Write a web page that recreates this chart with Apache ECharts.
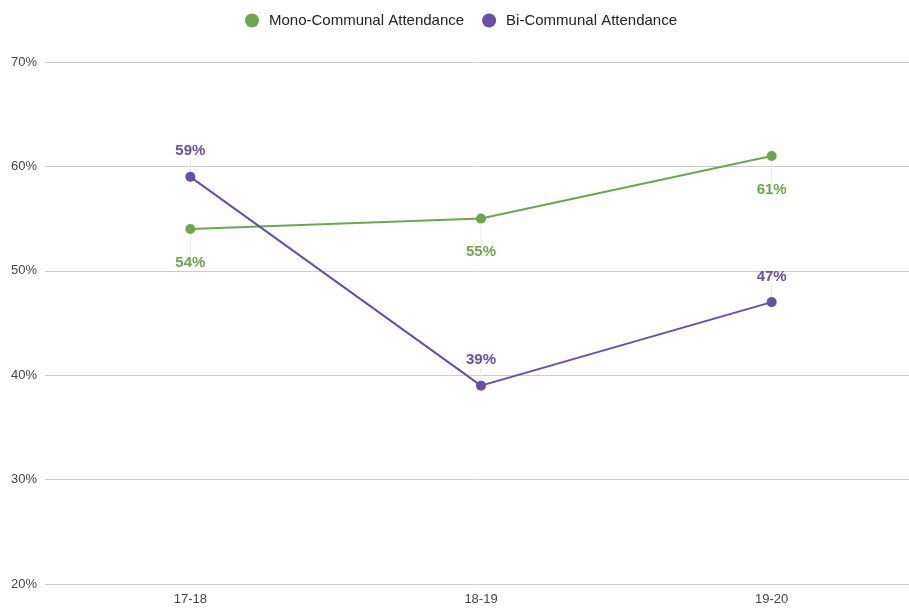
<!DOCTYPE html>
<html>
<head>
<meta charset="utf-8">
<script src="https://cdn.jsdelivr.net/npm/echarts@6/dist/echarts.min.js"></script>
<style>
  html, body { margin: 0; padding: 0; background: #fff; }
  #chart { width: 909px; height: 609px; }
</style>
</head>
<body>
<div id="chart"></div>
<script>
const seasons = ["17-18", "18-19", "19-20"];
const monoCommunal = [54, 55, 61];
const biCommunal = [59, 39, 47];
const seriesNames = ["Mono-Communal Attendance", "Bi-Communal Attendance"];
const green = "#6aa84f";
const purple = "#674ea7";

const chart = echarts.init(document.getElementById("chart"));

function lineSeries(name, data, color, below) {
  return {
    name: name,
    type: "line",
    data: data,
    color: color,
    symbol: "circle",
    symbolSize: 10,
    lineStyle: { width: 2 },
    label: {
      show: true,
      position: below ? "bottom" : "top",
      distance: 4,
      color: color,
      fontFamily: "Liberation Sans, Arial",
      fontSize: 15,
      fontWeight: "bold",
      formatter: p => p.value + "%"
    },
    labelLayout: { dy: below ? 17 : -9 },
    labelLine: { show: true, lineStyle: { color: "#e3e3e3", width: 1 } }
  };
}

chart.setOption({
  animation: false,
  textStyle: { fontFamily: "Liberation Sans, Arial" },
  legend: {
    top: 8,
    left: 240,
    icon: "circle",
    itemWidth: 14,
    itemHeight: 14,
    itemGap: 18,
    textStyle: { fontSize: 15, color: "#222", padding: [0, 0, 0, 5] },
    data: seriesNames
  },
  grid: {
    left: 45, width: 872, top: 62, bottom: 25,
    containLabel: false, outerBoundsMode: "none"
  },
  xAxis: {
    type: "category",
    data: seasons,
    axisLine: { show: false },
    axisTick: { show: false },
    axisLabel: { color: "#444", fontSize: 13, margin: 9 }
  },
  yAxis: {
    type: "value",
    min: 20,
    max: 70,
    interval: 10,
    axisLabel: { color: "#444", fontSize: 13, margin: 8, formatter: "{value}%" },
    splitLine: { lineStyle: { color: "#ccc", width: 1 } }
  },
  series: [
    lineSeries(seriesNames[0], monoCommunal, green, true),
    lineSeries(seriesNames[1], biCommunal, purple, false)
  ]
});
</script>
</body>
</html>
